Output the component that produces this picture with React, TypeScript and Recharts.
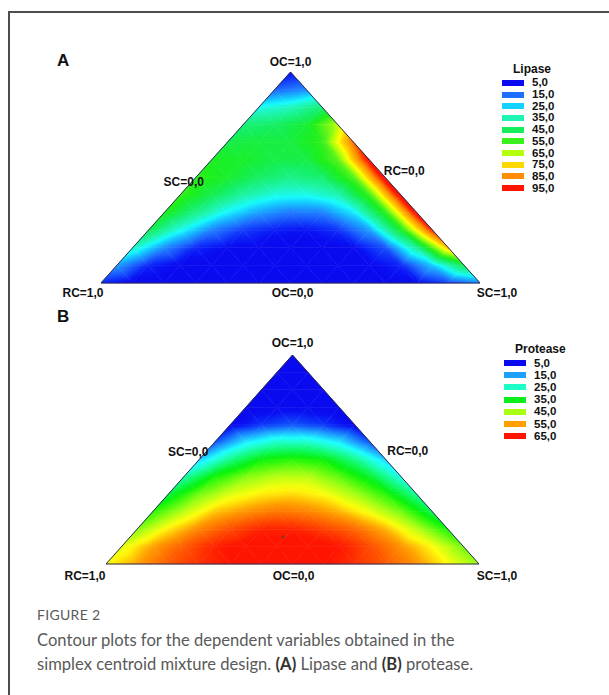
import React from 'react'
import { ScatterChart, Scatter, XAxis, YAxis, ReferenceArea, ReferenceLine, ReferenceDot } from 'recharts'

// lattice divisions of the ternary plot
const N = 12

// OC at the top, RC bottom-left, SC bottom-right
const corners = [
  { oc: 1, rc: 0, sc: 0 },
  { oc: 0, rc: 1, sc: 0 },
  { oc: 0, rc: 0, sc: 1 },
]
const cornerLabels = ['OC=1,0', 'RC=1,0', 'SC=1,0']
// midpoints of the side opposite each corner
const edgeMids = [
  { oc: 0, rc: 0.5, sc: 0.5 },
  { oc: 0.5, rc: 0, sc: 0.5 },
  { oc: 0.5, rc: 0.5, sc: 0 },
]
const edgeLabels = ['OC=0,0', 'RC=0,0', 'SC=0,0']

const lipaseLevels = [5, 15, 25, 35, 45, 55, 65, 75, 85, 95]
const lipaseColors = ['#0a0af0', '#1e6eff', '#14d2ff', '#1ef5b4', '#14ee5a', '#3cf01e', '#b4ff0a', '#ffd700', '#ff8c00', '#ff1400']
const proteaseLevels = [5, 15, 25, 35, 45, 55, 65]
const proteaseColors = ['#0a0af0', '#1ea0ff', '#1effc8', '#0af01e', '#aaff14', '#ffa000', '#ff1400']

// values at the lattice nodes, read off the picture row by row from the OC apex
// (row i has i+1 nodes, from the SC=0 side to the RC=0 side)
const lipaseRows = [
  [5],
  [14, 18],
  [30, 34, 42],
  [42, 44, 49, 66],
  [47, 48, 48, 54, 88],
  [51, 50, 47, 47, 58, 98],
  [54, 50, 44, 40, 43, 57, 100],
  [55, 46, 37, 31, 30, 35, 55, 100],
  [52, 40, 28, 20, 16, 17, 27, 53, 99],
  [46, 30, 17, 10, 7, 6, 9, 20, 50, 94],
  [34, 18, 8, 5, 4, 3, 3, 5, 12, 38, 78],
  [20, 8, 4, 3, 3, 3, 3, 3, 4, 8, 24, 46],
  [8, 4, 3, 3, 3, 3, 3, 3, 3, 3, 5, 11, 18],
]

const proteaseRows = [
  [2],
  [2, 2],
  [3, 3, 3],
  [3, 4, 4, 3],
  [4, 8, 10, 8, 4],
  [10, 20, 25, 25, 20, 10],
  [18, 29, 36, 38, 36, 29, 18],
  [27, 37, 43, 46, 46, 41, 34, 23],
  [33, 42, 48, 51, 52, 50, 45, 38, 28],
  [38, 46, 53, 56, 58, 57, 54, 49, 42, 32],
  [43, 51, 57, 61, 64, 64, 62, 59, 54, 46, 37],
  [48, 55, 60, 64, 66, 67, 67, 65, 61, 56, 50, 42],
  [50, 55, 60, 63, 65, 66, 66, 65, 63, 60, 56, 50, 44],
]
const proteaseOptimum = { oc: 0.13, rc: 0.46, sc: 0.41 }

const toXY = (p: { oc: number; rc: number; sc: number }) => ({ x: ((p.sc - p.rc) * N) / 2, y: p.oc * N })

function hexToHsl(hex: string) {
  const r = parseInt(hex.slice(1, 3), 16) / 255
  const g = parseInt(hex.slice(3, 5), 16) / 255
  const b = parseInt(hex.slice(5, 7), 16) / 255
  const max = Math.max(r, g, b)
  const min = Math.min(r, g, b)
  const l = (max + min) / 2
  let h = 0
  let s = 0
  if (max !== min) {
    const d = max - min
    s = l > 0.5 ? d / (2 - max - min) : d / (max + min)
    if (max === r) h = (g - b) / d + (g < b ? 6 : 0)
    else if (max === g) h = (b - r) / d + 2
    else h = (r - g) / d + 4
    h *= 60
  }
  return [h, s * 100, l * 100]
}

function colorFor(v: number, levels: number[], colors: string[]) {
  if (v <= levels[0]) return colors[0]
  const last = levels.length - 1
  if (v >= levels[last]) return colors[last]
  let i = 0
  while (v > levels[i + 1]) i++
  const t = (v - levels[i]) / (levels[i + 1] - levels[i])
  const a = hexToHsl(colors[i])
  const b = hexToHsl(colors[i + 1])
  const c = a.map((q, n) => q + (b[n] - q) * t)
  return `hsl(${c[0].toFixed(1)}, ${c[1].toFixed(1)}%, ${c[2].toFixed(1)}%)`
}

const fmt = (v: number) => v.toFixed(1).replace('.', ',')

const labelFont = { fontFamily: '"Liberation Sans", Arial, sans-serif', fontWeight: 700, fontSize: 12, fill: '#111' }

// small lattice triangle, shaded linearly between its three node values
// eslint-disable-next-line @typescript-eslint/no-explicit-any
const Tri = ({ x, y, width, height, up, vals, id, levels, colors }: any) => {
  const P = up
    ? [[x + width / 2, y], [x, y + height], [x + width, y + height]]
    : [[x, y], [x + width, y], [x + width / 2, y + height]]
  const pts = P.map((p) => p.join(',')).join(' ')
  const vmin = Math.min(...vals)
  const vmax = Math.max(...vals)
  if (vmax - vmin < 0.5) {
    const c = colorFor((vals[0] + vals[1] + vals[2]) / 3, levels, colors)
    return <polygon points={pts} fill={c} stroke={c} strokeWidth={0.6} />
  }
  const e1 = [P[1][0] - P[0][0], P[1][1] - P[0][1]]
  const e2 = [P[2][0] - P[0][0], P[2][1] - P[0][1]]
  const d1 = vals[1] - vals[0]
  const d2 = vals[2] - vals[0]
  const det = e1[0] * e2[1] - e1[1] * e2[0]
  const gx = (d1 * e2[1] - d2 * e1[1]) / det
  const gy = (e1[0] * d2 - e2[0] * d1) / det
  const g2 = gx * gx + gy * gy
  const ka = (vmin - vals[0]) / g2
  const kb = (vmax - vals[0]) / g2
  const steps = Math.max(2, Math.ceil((vmax - vmin) / 1.5))
  const stops = []
  for (let s = 0; s <= steps; s++) {
    const v = vmin + ((vmax - vmin) * s) / steps
    stops.push(<stop key={s} offset={s / steps} stopColor={colorFor(v, levels, colors)} />)
  }
  return (
    <g>
      <defs>
        <linearGradient
          id={id}
          gradientUnits="userSpaceOnUse"
          x1={P[0][0] + gx * ka}
          y1={P[0][1] + gy * ka}
          x2={P[0][0] + gx * kb}
          y2={P[0][1] + gy * kb}
        >
          {stops}
        </linearGradient>
      </defs>
      <polygon points={pts} fill={`url(#${id})`} stroke={`url(#${id})`} strokeWidth={0.6} />
    </g>
  )
}

interface TernaryProps {
  name: string
  rows: number[][]
  levels: number[]
  colors: string[]
  top: number
  margin: { top: number; right: number; bottom: number; left: number }
  cornerOffsets: number[][]
  edgeOffsets: number[][]
  optimum?: { oc: number; rc: number; sc: number }
}

function Ternary({ name, rows, levels, colors, top, margin, cornerOffsets, edgeOffsets, optimum }: TernaryProps) {
  const cells: { x1: number; x2: number; y1: number; y2: number; up: boolean; vals: number[] }[] = []
  for (let i = 0; i < N; i++) {
    for (let j = 0; j <= i; j++) {
      cells.push({
        x1: (2 * j - i - 1) / 2,
        x2: (2 * j - i + 1) / 2,
        y1: N - i - 1,
        y2: N - i,
        up: true,
        vals: [rows[i][j], rows[i + 1][j], rows[i + 1][j + 1]],
      })
      if (j < i) {
        cells.push({
          x1: (2 * j - i) / 2,
          x2: (2 * j - i + 2) / 2,
          y1: N - i - 1,
          y2: N - i,
          up: false,
          vals: [rows[i][j], rows[i][j + 1], rows[i + 1][j + 1]],
        })
      }
    }
  }
  const pts = corners.map(toXY)
  const mids = edgeMids.map(toXY)

  return (
    <div style={{ position: 'absolute', left: 0, top }}>
      <ScatterChart width={609} height={290} margin={margin}>
        <XAxis type="number" dataKey="x" domain={[-N / 2, N / 2]} hide />
        <YAxis type="number" dataKey="y" domain={[0, N]} hide />
        {cells.map((c, n) => (
          <ReferenceArea
            key={n}
            x1={c.x1}
            x2={c.x2}
            y1={c.y1}
            y2={c.y2}
            ifOverflow="visible"
            fillOpacity={1}
            // eslint-disable-next-line @typescript-eslint/no-explicit-any
            shape={(p: any) => <Tri {...p} up={c.up} vals={c.vals} id={`${name}-g${n}`} levels={levels} colors={colors} />}
          />
        ))}
        {[[0, 1], [1, 2], [2, 0]].map(([a, b]) => (
          <ReferenceLine
            key={`e${a}`}
            segment={[pts[a], pts[b]]}
            stroke="#2a2a55"
            strokeWidth={1}
            ifOverflow="visible"
          />
        ))}
        {pts.map((p, n) => (
          <ReferenceDot
            key={`c${n}`}
            x={p.x}
            y={p.y}
            r={0}
            ifOverflow="visible"
            // eslint-disable-next-line @typescript-eslint/no-explicit-any
            shape={(s: any) => (
              <text x={s.cx + cornerOffsets[n][0]} y={s.cy + cornerOffsets[n][1]} textAnchor="middle" {...labelFont}>
                {cornerLabels[n]}
              </text>
            )}
          />
        ))}
        {mids.map((p, n) => (
          <ReferenceDot
            key={`m${n}`}
            x={p.x}
            y={p.y}
            r={0}
            ifOverflow="visible"
            // eslint-disable-next-line @typescript-eslint/no-explicit-any
            shape={(s: any) => (
              <text x={s.cx + edgeOffsets[n][0]} y={s.cy + edgeOffsets[n][1]} textAnchor="middle" {...labelFont}>
                {edgeLabels[n]}
              </text>
            )}
          />
        ))}
        {optimum && (
          <ReferenceDot {...toXY(optimum)} r={1.6} fill="#8a3a20" stroke="none" ifOverflow="visible" />
        )}
        <Scatter data={pts} fill="none" shape={() => <g />} isAnimationActive={false} />
      </ScatterChart>
    </div>
  )
}

function LegendBox({ title, levels, colors, left, top, step }: { title: string; levels: number[]; colors: string[]; left: number; top: number; step: number }) {
  const font = { fontFamily: '"Liberation Sans", Arial, sans-serif', fontWeight: 700, fontSize: 11.5, color: '#111' }
  return (
    <div style={{ position: 'absolute', left, top, ...font }}>
      <div style={{ position: 'absolute', left: 11, top: 0, fontSize: 12, lineHeight: '14px', whiteSpace: 'nowrap' }}>{title}</div>
      {levels.map((lv, i) => (
        <div key={lv} style={{ position: 'absolute', left: 0, top: 15 + i * step, height: step, display: 'flex', alignItems: 'center', whiteSpace: 'nowrap' }}>
          <span style={{ display: 'inline-block', width: 22, height: 6, background: colors[i] }} />
          <span style={{ marginLeft: 8, lineHeight: '11px' }}>{fmt(lv)}</span>
        </div>
      ))}
    </div>
  )
}

export default function App() {
  const panelLetter = { position: 'absolute' as const, left: 57, fontFamily: '"Liberation Sans", Arial, sans-serif', fontWeight: 700, fontSize: 17, lineHeight: '17px', color: '#111' }
  return (
    <div style={{ position: 'absolute', left: 0, top: 0, width: 609, height: 695, overflow: 'hidden', background: '#fff' }}>
      <div style={{ position: 'absolute', left: 8, top: 11, right: 0, bottom: 0, borderTop: '2px solid #4d4d4d', borderLeft: '2px solid #4d4d4d' }} />
      <div style={{ ...panelLetter, top: 52 }}>A</div>
      <div style={{ ...panelLetter, top: 308 }}>B</div>

      <Ternary
        name="lip"
        rows={lipaseRows}
        levels={lipaseLevels}
        colors={lipaseColors}
        top={30}
        margin={{ top: 42, right: 129, bottom: 37, left: 101 }}
        cornerOffsets={[[0, -6], [-18, 14], [17, 14]]}
        edgeOffsets={[[2, 14], [19, -3], [-12, 8]]}
      />
      <LegendBox title="Lipase" levels={lipaseLevels} colors={lipaseColors} left={502} top={62} step={11.7} />

      <Ternary
        name="pro"
        rows={proteaseRows}
        levels={proteaseLevels}
        colors={proteaseColors}
        top={310}
        margin={{ top: 45, right: 130, bottom: 36, left: 106 }}
        cornerOffsets={[[0, -8], [-21, 16], [18, 16]]}
        edgeOffsets={[[1, 16], [22, -5], [-11, -4]]}
        optimum={proteaseOptimum}
      />
      <LegendBox title="Protease" levels={proteaseLevels} colors={proteaseColors} left={504} top={342} step={12.2} />

      <div style={{ position: 'absolute', left: 37, top: 606, fontFamily: 'Lato, "Open Sans", sans-serif', color: '#5a5a5a' }}>
        <div style={{ fontSize: 14, lineHeight: '18px', letterSpacing: 0.3 }}>FIGURE 2</div>
        <div style={{ fontSize: 16.6, lineHeight: '24px', marginTop: 4 }}>
          Contour plots for the dependent variables obtained in the
          <br />
          simplex centroid mixture design. <b style={{ color: '#333' }}>(A)</b> Lipase and <b style={{ color: '#333' }}>(B)</b> protease.
        </div>
      </div>
    </div>
  )
}
